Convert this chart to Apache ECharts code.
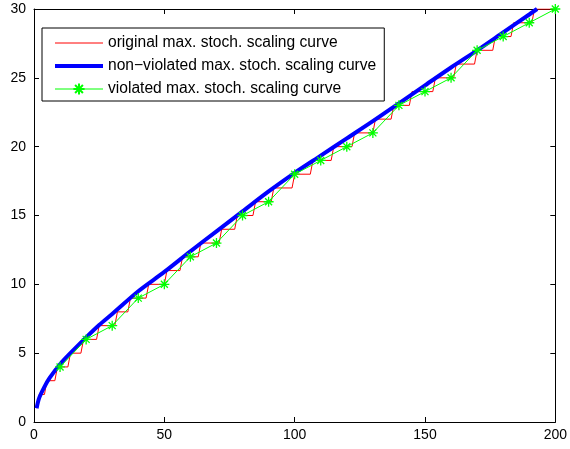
<!DOCTYPE html>
<html>
<head>
<meta charset="utf-8">
<script src="https://cdn.jsdelivr.net/npm/echarts@6/dist/echarts.min.js"></script>
<style>
  html, body { margin: 0; padding: 0; background: #fff; }
  #main { width: 570px; height: 449px; }
</style>
</head>
<body>
<div id="main"></div>
<script>
// x where the red staircase first reaches level 1, 2, ... 30
var redStepX = [1, 2, 5, 9, 14, 19, 25, 32, 37, 44, 51, 57, 64, 72, 78, 85, 92, 100, 107, 115, 123, 131, 138, 145, 154, 162, 170, 177, 184, 192];
var redEndX = 200;

// smooth upper curve
var blueX = [1, 2, 4, 6, 10, 15, 20, 25, 30, 40, 50, 60, 70, 80, 90, 100, 110, 120, 130, 140, 150, 160, 170, 180, 190, 193];
var blueY = [1.0, 1.75, 2.55, 3.2, 4.2, 5.2, 6.15, 7.05, 7.85, 9.5, 10.9, 12.4, 13.85, 15.3, 16.75, 18.1, 19.35, 20.6, 21.85, 23.15, 24.45, 25.75, 27.0, 28.3, 29.6, 30.0];

// sampled points every 10
var greenX = [10, 20, 30, 40, 50, 60, 70, 80, 90, 100, 110, 120, 130, 140, 150, 160, 170, 180, 190, 200];
var greenY = [4, 6, 7, 9, 10, 12, 13, 15, 16, 18, 19, 20, 21, 23, 24, 25, 27, 28, 29, 30];

var seriesNames = ['original max. stoch. scaling curve', 'non\u2212violated max. stoch. scaling curve', 'violated max. stoch. scaling curve'];

// build the staircase: each level holds until one step before the next jump
var redData = [];
for (var i = 0; i < redStepX.length; i++) {
  var lvl = i + 1;
  redData.push([redStepX[i], lvl]);
  var endX = i + 1 < redStepX.length ? redStepX[i + 1] - 1 : redEndX;
  if (endX > redStepX[i]) redData.push([endX, lvl]);
}
var blueData = blueX.map(function (x, i) { return [x, blueY[i]]; });
var greenData = greenX.map(function (x, i) { return [x, greenY[i]]; });

var FONT = "'Liberation Sans', Arial, sans-serif";
var starPath = 'path://M0,5L10,5M5,0L5,10M1.5,1.5L8.5,8.5M1.5,8.5L8.5,1.5';

var axisCommon = {
  axisLine: { show: true, onZero: false, lineStyle: { color: '#000', width: 1 } },
  axisTick: { show: true, inside: true, length: 5, lineStyle: { color: '#000' } },
  splitLine: { show: false }
};

var chart = echarts.init(document.getElementById('main'), null, { renderer: 'canvas' });
chart.setOption({
  animation: false,
  backgroundColor: '#fff',
  grid: { left: 34, right: 14, top: 9, bottom: 27 },
  legend: {
    orient: 'vertical',
    left: 42,
    top: 28,
    padding: [7, 8, 4, 11],
    itemWidth: 48,
    itemHeight: 14,
    itemGap: 7,
    backgroundColor: '#fff',
    borderColor: '#000',
    borderWidth: 1,
    borderRadius: 0,
    textStyle: { color: '#000', fontSize: 15.6, fontFamily: FONT },
    data: [
      { name: seriesNames[0], itemStyle: { opacity: 0 }, lineStyle: { width: 1 } },
      { name: seriesNames[1], itemStyle: { opacity: 0 }, lineStyle: { width: 4 } },
      { name: seriesNames[2], lineStyle: { width: 1 } }
    ]
  },
  xAxis: [
    Object.assign({
      type: 'value', min: 0, max: 200, interval: 50, position: 'bottom',
      axisLabel: { color: '#000', fontSize: 14, fontFamily: FONT, margin: 6 }
    }, axisCommon),
    Object.assign({
      type: 'value', min: 0, max: 200, interval: 50, position: 'top',
      axisLabel: { show: false }
    }, axisCommon)
  ],
  yAxis: [
    Object.assign({
      type: 'value', min: 0, max: 30, interval: 5, position: 'left',
      axisLabel: { color: '#000', fontSize: 14, fontFamily: FONT, margin: 8 }
    }, axisCommon),
    Object.assign({
      type: 'value', min: 0, max: 30, interval: 5, position: 'right',
      axisLabel: { show: false }
    }, axisCommon)
  ],
  series: [
    {
      name: seriesNames[0], type: 'line', data: redData,
      symbol: 'none', color: '#ff0000',
      lineStyle: { color: '#ff0000', width: 1 }
    },
    {
      name: seriesNames[1], type: 'line', data: blueData,
      symbol: 'none', color: '#0000ff', smooth: 0.3,
      lineStyle: { color: '#0000ff', width: 4 }
    },
    {
      name: seriesNames[2], type: 'line', data: greenData,
      symbol: starPath, symbolSize: 10, showAllSymbol: true, color: '#00ff00',
      itemStyle: { color: '#00ff00', borderColor: '#00ff00', borderWidth: 1.3 },
      lineStyle: { color: '#00ff00', width: 1 }
    }
  ]
});
</script>
</body>
</html>
